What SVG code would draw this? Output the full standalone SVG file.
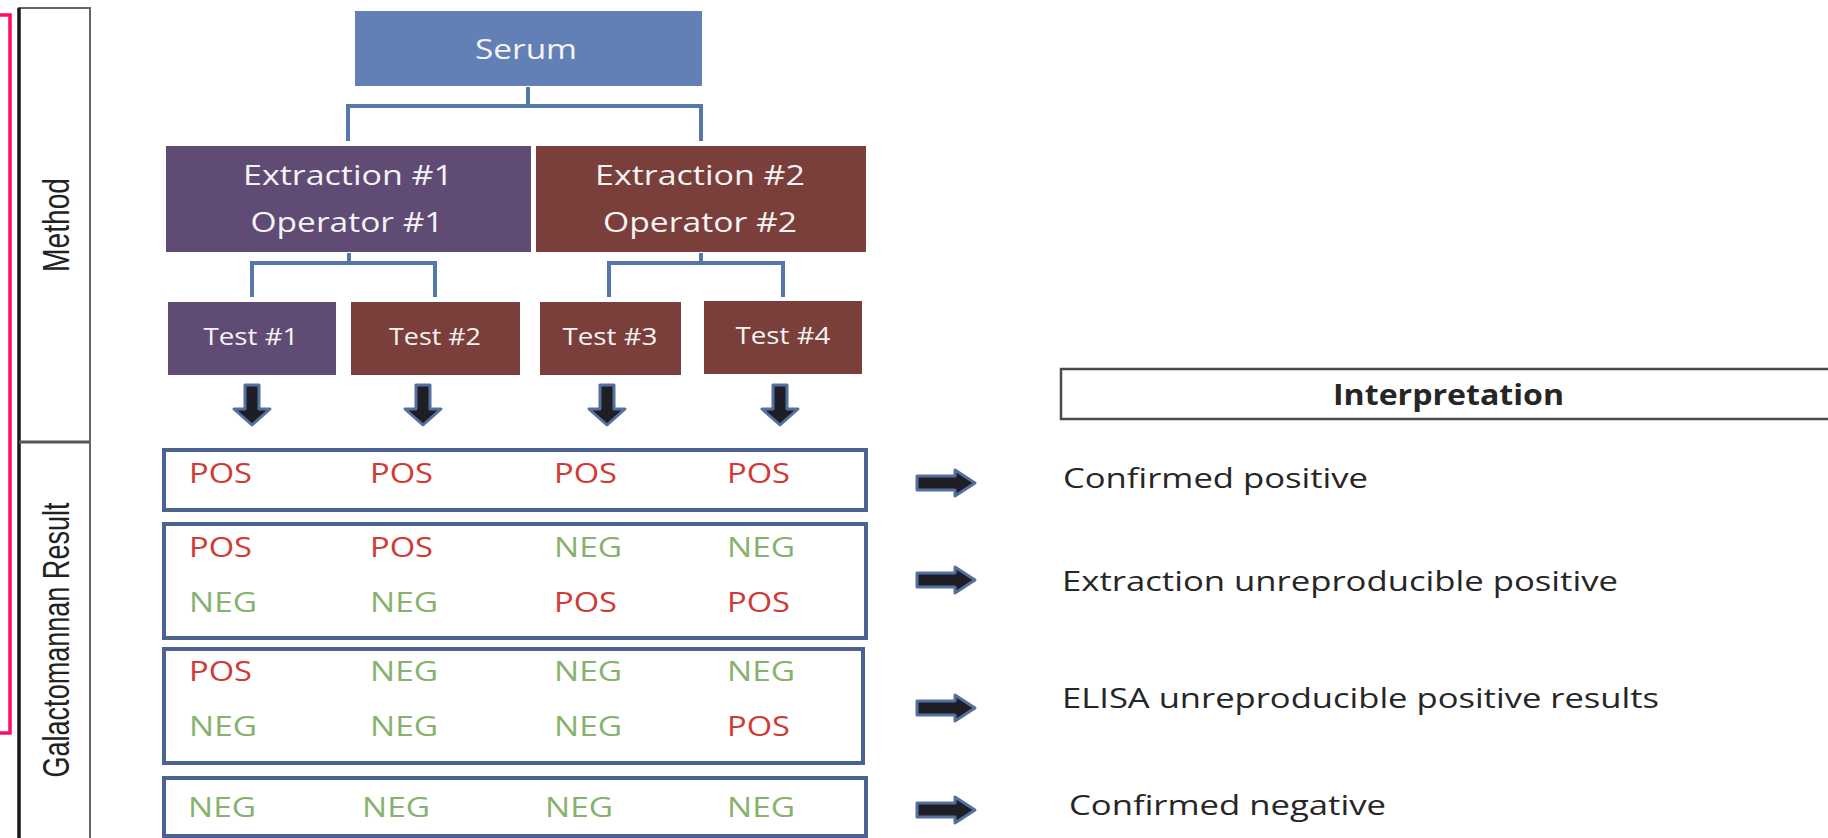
<svg xmlns="http://www.w3.org/2000/svg" width="1828" height="838" viewBox="0 0 1828 838">
<style>
.ttl{font-family:"Open Sans","Liberation Sans",sans-serif;fill:#F4F4F4;text-anchor:middle}
.res{font-family:"Open Sans","Liberation Sans",sans-serif;font-size:28px}
.pos{fill:#D03A34}
.neg{fill:#86B26E}
.itxt{font-family:"Open Sans","Liberation Sans",sans-serif;font-size:28px;fill:#262626}
.side{font-family:"Liberation Sans",Arial,sans-serif;font-size:36px;fill:#222;text-anchor:middle}
.conn{fill:none;stroke:#5677AC;stroke-width:4;stroke-linejoin:miter}
.rbox{fill:#fff;stroke:#4B6293;stroke-width:4}
.arr{fill:#1E1E24;stroke:#5470A0;stroke-width:3;stroke-linejoin:round}
</style>
<defs>
<path id="darr" d="M-7,0 H7 V24 H18 L0,40 L-18,24 H-7 Z"/>
<path id="rarr" d="M0,-7 H38 V-13 L58,0 L38,13 V7 H0 Z"/>
</defs>
<rect width="1828" height="838" fill="#fff"/>

<g id="bracket">
<path d="M0,15 H10 V733 H0" fill="none" stroke="#FF0A64" stroke-width="3.5"/>
</g>

<g id="side-panel">
<rect x="19" y="8" width="71" height="840" fill="#fff" stroke="#666" stroke-width="2"/>
<line x1="19" y1="8" x2="19" y2="838" stroke="#1a1a1a" stroke-width="3.5"/>
<line x1="19" y1="442" x2="90" y2="442" stroke="#555" stroke-width="3"/>
<text class="side" transform="translate(69,225) rotate(-90)" textLength="94" lengthAdjust="spacingAndGlyphs">Method</text>
<text class="side" transform="translate(69,640) rotate(-90)" textLength="275" lengthAdjust="spacingAndGlyphs">Galactomannan Result</text>
</g>

<g id="connectors">
<path class="conn" d="M528,87 V106 M348,141 V106 H701 V141"/>
<path class="conn" d="M349,253 V263 M252,297 V263 H435 V297"/>
<path class="conn" d="M701,253 V263 M609,297 V263 H783 V297"/>
<use href="#darr" class="arr" x="252" y="385"/>
<use href="#darr" class="arr" x="423" y="385"/>
<use href="#darr" class="arr" x="607" y="385"/>
<use href="#darr" class="arr" x="780" y="385"/>
<use href="#rarr" class="arr" x="917" y="483"/>
<use href="#rarr" class="arr" x="917" y="580"/>
<use href="#rarr" class="arr" x="917" y="708"/>
<use href="#rarr" class="arr" x="917" y="810"/>
</g>

<g id="serum">
<rect x="355" y="11" width="347" height="75" fill="#6380B6"/>
<text class="ttl" x="526" y="59" font-size="28" textLength="102" lengthAdjust="spacingAndGlyphs">Serum</text>
</g>

<g id="extraction1">
<rect x="166" y="146" width="365" height="106" fill="#5F4B74"/>
<text class="ttl" x="348" y="185" font-size="27" textLength="210" lengthAdjust="spacingAndGlyphs">Extraction #1</text>
<text class="ttl" x="347" y="232" font-size="27" textLength="193" lengthAdjust="spacingAndGlyphs">Operator #1</text>
</g>

<g id="extraction2">
<rect x="536" y="146" width="330" height="106" fill="#7A3F3B"/>
<text class="ttl" x="700" y="185" font-size="27" textLength="210" lengthAdjust="spacingAndGlyphs">Extraction #2</text>
<text class="ttl" x="700" y="232" font-size="27" textLength="194" lengthAdjust="spacingAndGlyphs">Operator #2</text>
</g>

<g id="test1">
<rect x="168" y="302" width="168" height="73" fill="#5F4B74"/>
<text class="ttl" x="251" y="345" font-size="24" textLength="95" lengthAdjust="spacingAndGlyphs">Test #1</text>
</g>
<g id="test2">
<rect x="351" y="302" width="169" height="73" fill="#7A3F3B"/>
<text class="ttl" x="435" y="345" font-size="24" textLength="92" lengthAdjust="spacingAndGlyphs">Test #2</text>
</g>
<g id="test3">
<rect x="540" y="302" width="141" height="73" fill="#7A3F3B"/>
<text class="ttl" x="610" y="345" font-size="24" textLength="95" lengthAdjust="spacingAndGlyphs">Test #3</text>
</g>
<g id="test4">
<rect x="704" y="301" width="158" height="73" fill="#7A3F3B"/>
<text class="ttl" x="783" y="344" font-size="24" textLength="95" lengthAdjust="spacingAndGlyphs">Test #4</text>
</g>

<g id="result1">
<rect class="rbox" x="164" y="450" width="702" height="60"/>
<text class="res pos" x="189" y="483" textLength="63" lengthAdjust="spacingAndGlyphs">POS</text>
<text class="res pos" x="370" y="483" textLength="63" lengthAdjust="spacingAndGlyphs">POS</text>
<text class="res pos" x="554" y="483" textLength="63" lengthAdjust="spacingAndGlyphs">POS</text>
<text class="res pos" x="727" y="483" textLength="63" lengthAdjust="spacingAndGlyphs">POS</text>
</g>

<g id="result2">
<rect class="rbox" x="164" y="524" width="702" height="114"/>
<text class="res pos" x="189" y="557" textLength="63" lengthAdjust="spacingAndGlyphs">POS</text>
<text class="res pos" x="370" y="557" textLength="63" lengthAdjust="spacingAndGlyphs">POS</text>
<text class="res neg" x="554" y="557" textLength="68" lengthAdjust="spacingAndGlyphs">NEG</text>
<text class="res neg" x="727" y="557" textLength="68" lengthAdjust="spacingAndGlyphs">NEG</text>
<text class="res neg" x="189" y="612" textLength="68" lengthAdjust="spacingAndGlyphs">NEG</text>
<text class="res neg" x="370" y="612" textLength="68" lengthAdjust="spacingAndGlyphs">NEG</text>
<text class="res pos" x="554" y="612" textLength="63" lengthAdjust="spacingAndGlyphs">POS</text>
<text class="res pos" x="727" y="612" textLength="63" lengthAdjust="spacingAndGlyphs">POS</text>
</g>

<g id="result3">
<rect class="rbox" x="164" y="649" width="699" height="114"/>
<text class="res pos" x="189" y="681" textLength="63" lengthAdjust="spacingAndGlyphs">POS</text>
<text class="res neg" x="370" y="681" textLength="68" lengthAdjust="spacingAndGlyphs">NEG</text>
<text class="res neg" x="554" y="681" textLength="68" lengthAdjust="spacingAndGlyphs">NEG</text>
<text class="res neg" x="727" y="681" textLength="68" lengthAdjust="spacingAndGlyphs">NEG</text>
<text class="res neg" x="189" y="736" textLength="68" lengthAdjust="spacingAndGlyphs">NEG</text>
<text class="res neg" x="370" y="736" textLength="68" lengthAdjust="spacingAndGlyphs">NEG</text>
<text class="res neg" x="554" y="736" textLength="68" lengthAdjust="spacingAndGlyphs">NEG</text>
<text class="res pos" x="727" y="736" textLength="63" lengthAdjust="spacingAndGlyphs">POS</text>
</g>

<g id="result4">
<rect class="rbox" x="164" y="778" width="702" height="58"/>
<text class="res neg" x="188" y="817" textLength="68" lengthAdjust="spacingAndGlyphs">NEG</text>
<text class="res neg" x="362" y="817" textLength="68" lengthAdjust="spacingAndGlyphs">NEG</text>
<text class="res neg" x="545" y="817" textLength="68" lengthAdjust="spacingAndGlyphs">NEG</text>
<text class="res neg" x="727" y="817" textLength="68" lengthAdjust="spacingAndGlyphs">NEG</text>
</g>

<g id="interpretation-header">
<rect x="1061" y="369" width="780" height="50" fill="#fff" stroke="#4a4a4a" stroke-width="2.5"/>
<text class="itxt" x="1333" y="405" font-weight="bold" textLength="231" lengthAdjust="spacingAndGlyphs">Interpretation</text>
</g>

<g id="interpretations">
<text class="itxt" x="1063" y="488" textLength="305" lengthAdjust="spacingAndGlyphs">Confirmed positive</text>
<text class="itxt" x="1062" y="591" textLength="556" lengthAdjust="spacingAndGlyphs">Extraction unreproducible positive</text>
<text class="itxt" x="1062" y="708" textLength="597" lengthAdjust="spacingAndGlyphs">ELISA unreproducible positive results</text>
<text class="itxt" x="1069" y="815" textLength="317" lengthAdjust="spacingAndGlyphs">Confirmed negative</text>
</g>
</svg>
